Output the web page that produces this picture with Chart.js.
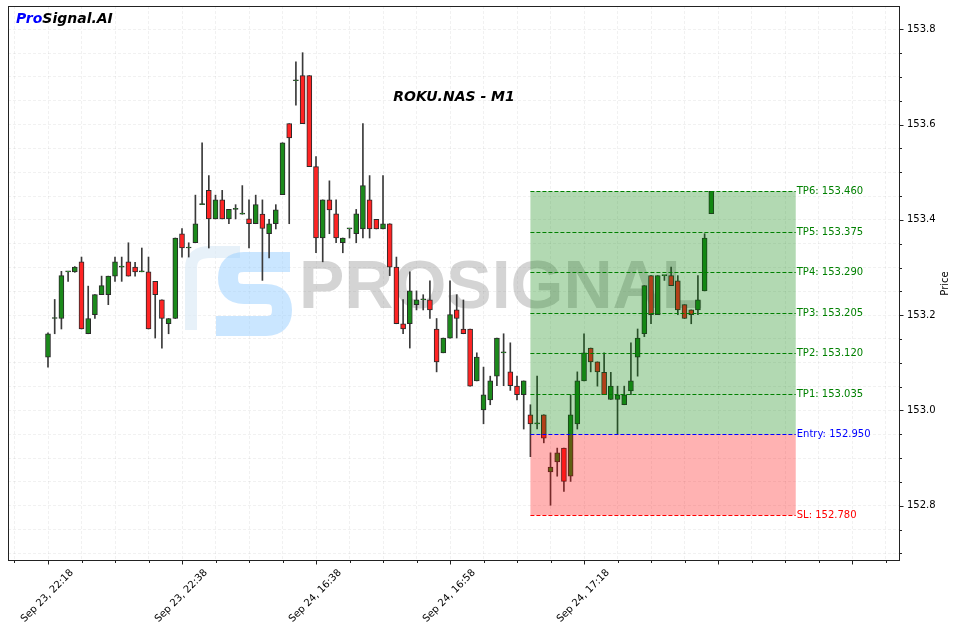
<!DOCTYPE html>
<html>
<head>
<meta charset="utf-8">
<script src="https://cdn.jsdelivr.net/npm/chart.js@4.4.0/dist/chart.umd.min.js"></script>
<style>
html, body { margin: 0; padding: 0; background: #fff; }
#wrap { width: 956px; height: 631px; }
</style>
</head>
<body>
<div id="wrap"><canvas id="priceChart" width="956" height="631"></canvas></div>
<script>
// ROKU.NAS M1 candles, one per minute
var opens = [153.112, 153.193, 153.193, 153.291, 153.291, 153.312, 153.161, 153.201, 153.243, 153.243,
    153.282, 153.301, 153.312, 153.301, 153.291, 153.291, 153.271, 153.232, 153.182, 153.193,
    153.371, 153.341, 153.352, 153.432, 153.462, 153.402, 153.442, 153.402, 153.422, 153.412,
    153.402, 153.392, 153.412, 153.371, 153.392, 153.453, 153.602, 153.692, 153.703, 153.703,
    153.512, 153.362, 153.442, 153.413, 153.352, 153.381, 153.371, 153.381, 153.442, 153.401,
    153.381, 153.392, 153.301, 153.182, 153.182, 153.222, 153.232, 153.232, 153.171, 153.121,
    153.152, 153.211, 153.171, 153.171, 153.062, 153.001, 153.022, 153.072, 153.121, 153.081,
    153.051, 153.033, 152.991, 152.972, 152.991, 152.871, 152.892, 152.921, 152.862, 152.972,
    153.062, 153.131, 153.102, 153.080, 153.023, 153.023, 153.012, 153.041, 153.112, 153.161,
    153.283, 153.201, 153.283, 153.283, 153.272, 153.222, 153.211, 153.211, 153.251, 153.413];
var highs = [153.163, 153.233, 153.292, 153.291, 153.302, 153.322, 153.261, 153.243, 153.282, 153.282,
    153.322, 153.322, 153.352, 153.311, 153.341, 153.322, 153.271, 153.232, 153.193, 153.362,
    153.382, 153.352, 153.452, 153.562, 153.493, 153.452, 153.462, 153.422, 153.432, 153.472,
    153.442, 153.452, 153.442, 153.401, 153.432, 153.562, 153.602, 153.732, 153.751, 153.703,
    153.533, 153.442, 153.482, 153.442, 153.362, 153.381, 153.422, 153.602, 153.493, 153.401,
    153.493, 153.392, 153.322, 153.233, 153.291, 153.251, 153.243, 153.272, 153.193, 153.152,
    153.272, 153.243, 153.232, 153.171, 153.121, 153.091, 153.072, 153.152, 153.161, 153.142,
    153.072, 153.062, 153.012, 153.072, 152.991, 152.911, 152.921, 152.921, 153.033, 153.081,
    153.161, 153.131, 153.102, 153.121, 153.080, 153.051, 153.051, 153.142, 153.171, 153.262,
    153.283, 153.283, 153.283, 153.301, 153.283, 153.222, 153.211, 153.283, 153.371, 153.460];
var lows = [153.091, 153.161, 153.171, 153.271, 153.290, 153.171, 153.161, 153.193, 153.243, 153.222,
    153.271, 153.271, 153.282, 153.282, 153.291, 153.171, 153.152, 153.131, 153.161, 153.193,
    153.322, 153.322, 153.352, 153.432, 153.341, 153.402, 153.402, 153.392, 153.402, 153.412,
    153.341, 153.392, 153.273, 153.320, 153.381, 153.453, 153.392, 153.641, 153.602, 153.512,
    153.331, 153.312, 153.371, 153.352, 153.331, 153.362, 153.352, 153.362, 153.362, 153.381,
    153.381, 153.283, 153.182, 153.161, 153.131, 153.211, 153.211, 153.193, 153.081, 153.121,
    153.152, 153.152, 153.161, 153.051, 153.062, 152.972, 153.012, 153.052, 153.052, 153.042,
    153.022, 152.961, 152.903, 152.961, 152.932, 152.801, 152.862, 152.830, 152.851, 152.961,
    153.062, 153.081, 153.051, 153.033, 153.023, 152.951, 153.012, 153.033, 153.072, 153.155,
    153.182, 153.201, 153.273, 153.262, 153.201, 153.193, 153.182, 153.201, 153.251, 153.413];
var closes = [153.161, 153.193, 153.283, 153.291, 153.301, 153.171, 153.193, 153.243, 153.262, 153.282,
    153.312, 153.301, 153.282, 153.291, 153.291, 153.171, 153.243, 153.193, 153.193, 153.362,
    153.341, 153.341, 153.392, 153.432, 153.402, 153.442, 153.402, 153.422, 153.422, 153.412,
    153.392, 153.432, 153.382, 153.392, 153.421, 153.562, 153.572, 153.692, 153.602, 153.512,
    153.362, 153.442, 153.421, 153.362, 153.362, 153.381, 153.413, 153.472, 153.381, 153.381,
    153.392, 153.301, 153.182, 153.171, 153.251, 153.232, 153.232, 153.211, 153.102, 153.152,
    153.201, 153.193, 153.161, 153.051, 153.112, 153.033, 153.062, 153.152, 153.121, 153.052,
    153.033, 153.062, 152.972, 152.972, 152.942, 152.881, 152.911, 152.851, 152.991, 153.062,
    153.121, 153.102, 153.081, 153.033, 153.051, 153.033, 153.033, 153.062, 153.152, 153.262,
    153.201, 153.283, 153.283, 153.262, 153.211, 153.193, 153.201, 153.232, 153.362, 153.460];

var tickIndexes = [0, 20, 40, 60, 80];
var tickLabels = ['Sep 23, 22:18', 'Sep 23, 22:38', 'Sep 24, 16:38', 'Sep 24, 16:58', 'Sep 24, 17:18'];

var levelNames = ['TP6', 'TP5', 'TP4', 'TP3', 'TP2', 'TP1', 'Entry', 'SL'];
var levelValues = [153.460, 153.375, 153.290, 153.205, 153.120, 153.035, 152.950, 152.780];
var zoneStart = 72;
var zoneEnd = 111.6;

Chart.defaults.font.family = 'DejaVu Sans';
Chart.defaults.font.size = 10;
Chart.defaults.color = '#000';

var bodyData = opens.map(function (o, i) { return {x: i, y: [o, closes[i]]}; });
var wickData = opens.map(function (o, i) { return {x: i, y: [lows[i], highs[i]]}; });
var bodyColors = opens.map(function (o, i) { return closes[i] >= o ? '#1b8a1b' : '#ff2424'; });

var decor = {
    id: 'decor',
    beforeDatasetsDraw: function (chart) {
        var c = chart.ctx;
        c.save();
        // watermark logo
        c.lineCap = 'butt';
        c.lineJoin = 'miter';
        c.strokeStyle = 'rgba(215,232,245,0.6)';
        c.lineWidth = 12;
        c.beginPath();
        c.moveTo(191, 330);
        c.lineTo(191, 268);
        c.quadraticCurveTo(191, 252, 210, 252);
        c.lineTo(240, 252);
        c.stroke();
        c.strokeStyle = 'rgba(150,205,255,0.5)';
        c.lineWidth = 20;
        c.beginPath();
        c.moveTo(290, 262);
        c.lineTo(244, 262);
        c.quadraticCurveTo(228, 262, 228, 278);
        c.quadraticCurveTo(228, 294, 244, 294);
        c.lineTo(266, 294);
        c.quadraticCurveTo(282, 294, 282, 310);
        c.quadraticCurveTo(282, 326, 266, 326);
        c.lineTo(216, 326);
        c.stroke();
        c.font = 'bold 68px "Liberation Sans"';
        c.textAlign = 'left';
        c.textBaseline = 'middle';
        c.fillStyle = 'rgba(120,120,120,0.32)';
        c.fillText('PROSIGNAL', 299, 289);
        c.restore();
    },
    afterDatasetsDraw: function (chart) {
        var c = chart.ctx, xs = chart.scales.x, ys = chart.scales.y;
        var x0 = xs.getPixelForValue(zoneStart), x1 = xs.getPixelForValue(zoneEnd);
        var yTop = ys.getPixelForValue(levelValues[0]);
        var yEntry = ys.getPixelForValue(levelValues[6]);
        var ySl = ys.getPixelForValue(levelValues[7]);
        c.save();
        c.fillStyle = 'rgba(0,128,0,0.3)';
        c.fillRect(x0, yTop, x1 - x0, yEntry - yTop);
        c.fillStyle = 'rgba(255,0,0,0.3)';
        c.fillRect(x0, yEntry, x1 - x0, ySl - yEntry);
        c.font = '10px "DejaVu Sans"';
        c.textBaseline = 'middle';
        c.textAlign = 'left';
        c.lineWidth = 1;
        c.setLineDash([4, 2]);
        levelValues.forEach(function (v, i) {
            var col = levelNames[i] === 'Entry' ? '#0000ff' : (levelNames[i] === 'SL' ? '#ff0000' : '#008000');
            var y = Math.round(ys.getPixelForValue(v)) + 0.5;
            c.strokeStyle = col;
            c.beginPath();
            c.moveTo(x0, y);
            c.lineTo(x1, y);
            c.stroke();
            c.fillStyle = col;
            c.fillText(levelNames[i] + ': ' + v.toFixed(3), x1 + 1, y);
        });
        c.restore();
    },
    afterDraw: function (chart) {
        var c = chart.ctx, a = chart.chartArea, xs = chart.scales.x, ys = chart.scales.y;
        c.save();
        // frame
        c.strokeStyle = '#222';
        c.lineWidth = 1;
        c.strokeRect(a.left + 0.5, a.top + 0.5, a.right - a.left - 1, a.bottom - a.top - 1);
        // tick marks
        c.beginPath();
        xs.ticks.forEach(function (t) {
            var px = Math.round(xs.getPixelForValue(t.value)) + 0.5;
            var len = t.value % 20 === 0 ? 3.5 : 2;
            c.moveTo(px, a.bottom);
            c.lineTo(px, a.bottom + len);
        });
        ys.ticks.forEach(function (t) {
            var py = Math.round(ys.getPixelForValue(t.value)) + 0.5;
            var len = Math.round(t.value * 20) % 4 === 0 ? 3.5 : 2;
            c.moveTo(a.right, py);
            c.lineTo(a.right + len, py);
        });
        c.stroke();
        // titles
        c.textBaseline = 'middle';
        c.textAlign = 'center';
        c.fillStyle = '#000';
        c.font = 'italic bold 14px "DejaVu Sans"';
        c.fillText('ROKU.NAS - M1', (a.left + a.right) / 2, 97);
        c.textAlign = 'left';
        c.fillStyle = '#0000ff';
        c.fillText('Pro', 16, 19);
        var w = c.measureText('Pro').width;
        c.fillStyle = '#000';
        c.fillText('Signal.AI', 16 + w, 19);
        c.font = '10px "DejaVu Sans"';
        c.translate(945, (a.top + a.bottom) / 2);
        c.rotate(-Math.PI / 2);
        c.textAlign = 'center';
        c.fillText('Price', 0, 0);
        c.restore();
    }
};

var ctx = document.getElementById('priceChart');
var priceChart = new Chart(ctx, {
    type: 'bar',
    data: {
        datasets: [{
            label: 'body',
            data: bodyData,
            backgroundColor: bodyColors,
            borderColor: '#2a2a2a',
            borderWidth: 1,
            borderSkipped: false,
            barThickness: 5,
            minBarLength: 1,
            grouped: false,
            order: 1
        }, {
            label: 'wick',
            data: wickData,
            backgroundColor: '#3a3a3a',
            barThickness: 1,
            grouped: false,
            order: 2
        }]
    },
    options: {
        responsive: false,
        animation: false,
        layout: {padding: {left: 8, top: 6, right: 0, bottom: 0}},
        plugins: {
            legend: {display: false},
            tooltip: {enabled: false}
        },
        scales: {
            x: {
                type: 'linear',
                offset: false,
                min: -5.97,
                max: 127.16,
                afterBuildTicks: function (scale) {
                    var t = [];
                    for (var v = -5; v <= 127; v += 5) t.push({value: v});
                    scale.ticks = t;
                },
                afterFit: function (scale) {
                    scale.height = 70;
                    scale.paddingLeft = 0;
                    scale.paddingRight = 0;
                },
                grid: {color: 'rgba(0,0,0,0.07)', lineWidth: 0.8, drawTicks: false, offset: false},
                border: {display: false, dash: [3, 2]},
                ticks: {
                    autoSkip: false,
                    minRotation: 45,
                    maxRotation: 45,
                    padding: 6,
                    labelOffset: 24,
                    font: {size: 10},
                    callback: function (value) {
                        var k = tickIndexes.indexOf(value);
                        return k >= 0 ? tickLabels[k] : '';
                    }
                }
            },
            y: {
                position: 'right',
                min: 152.684,
                max: 153.849,
                afterBuildTicks: function (scale) {
                    var t = [];
                    for (var k = Math.ceil(scale.min * 20); k <= Math.floor(scale.max * 20); k++) t.push({value: k / 20});
                    scale.ticks = t;
                },
                afterFit: function (scale) {
                    scale.width = 56;
                    scale.paddingTop = 0;
                    scale.paddingBottom = 0;
                },
                grid: {color: 'rgba(0,0,0,0.07)', lineWidth: 0.8, drawTicks: false},
                border: {display: false, dash: [3, 2]},
                ticks: {
                    padding: 7,
                    font: {size: 10},
                    callback: function (value) {
                        return Math.round(value * 20) % 4 === 0 ? value.toFixed(1) : '';
                    }
                }
            }
        }
    },
    plugins: [decor]
});
</script>
</body>
</html>
